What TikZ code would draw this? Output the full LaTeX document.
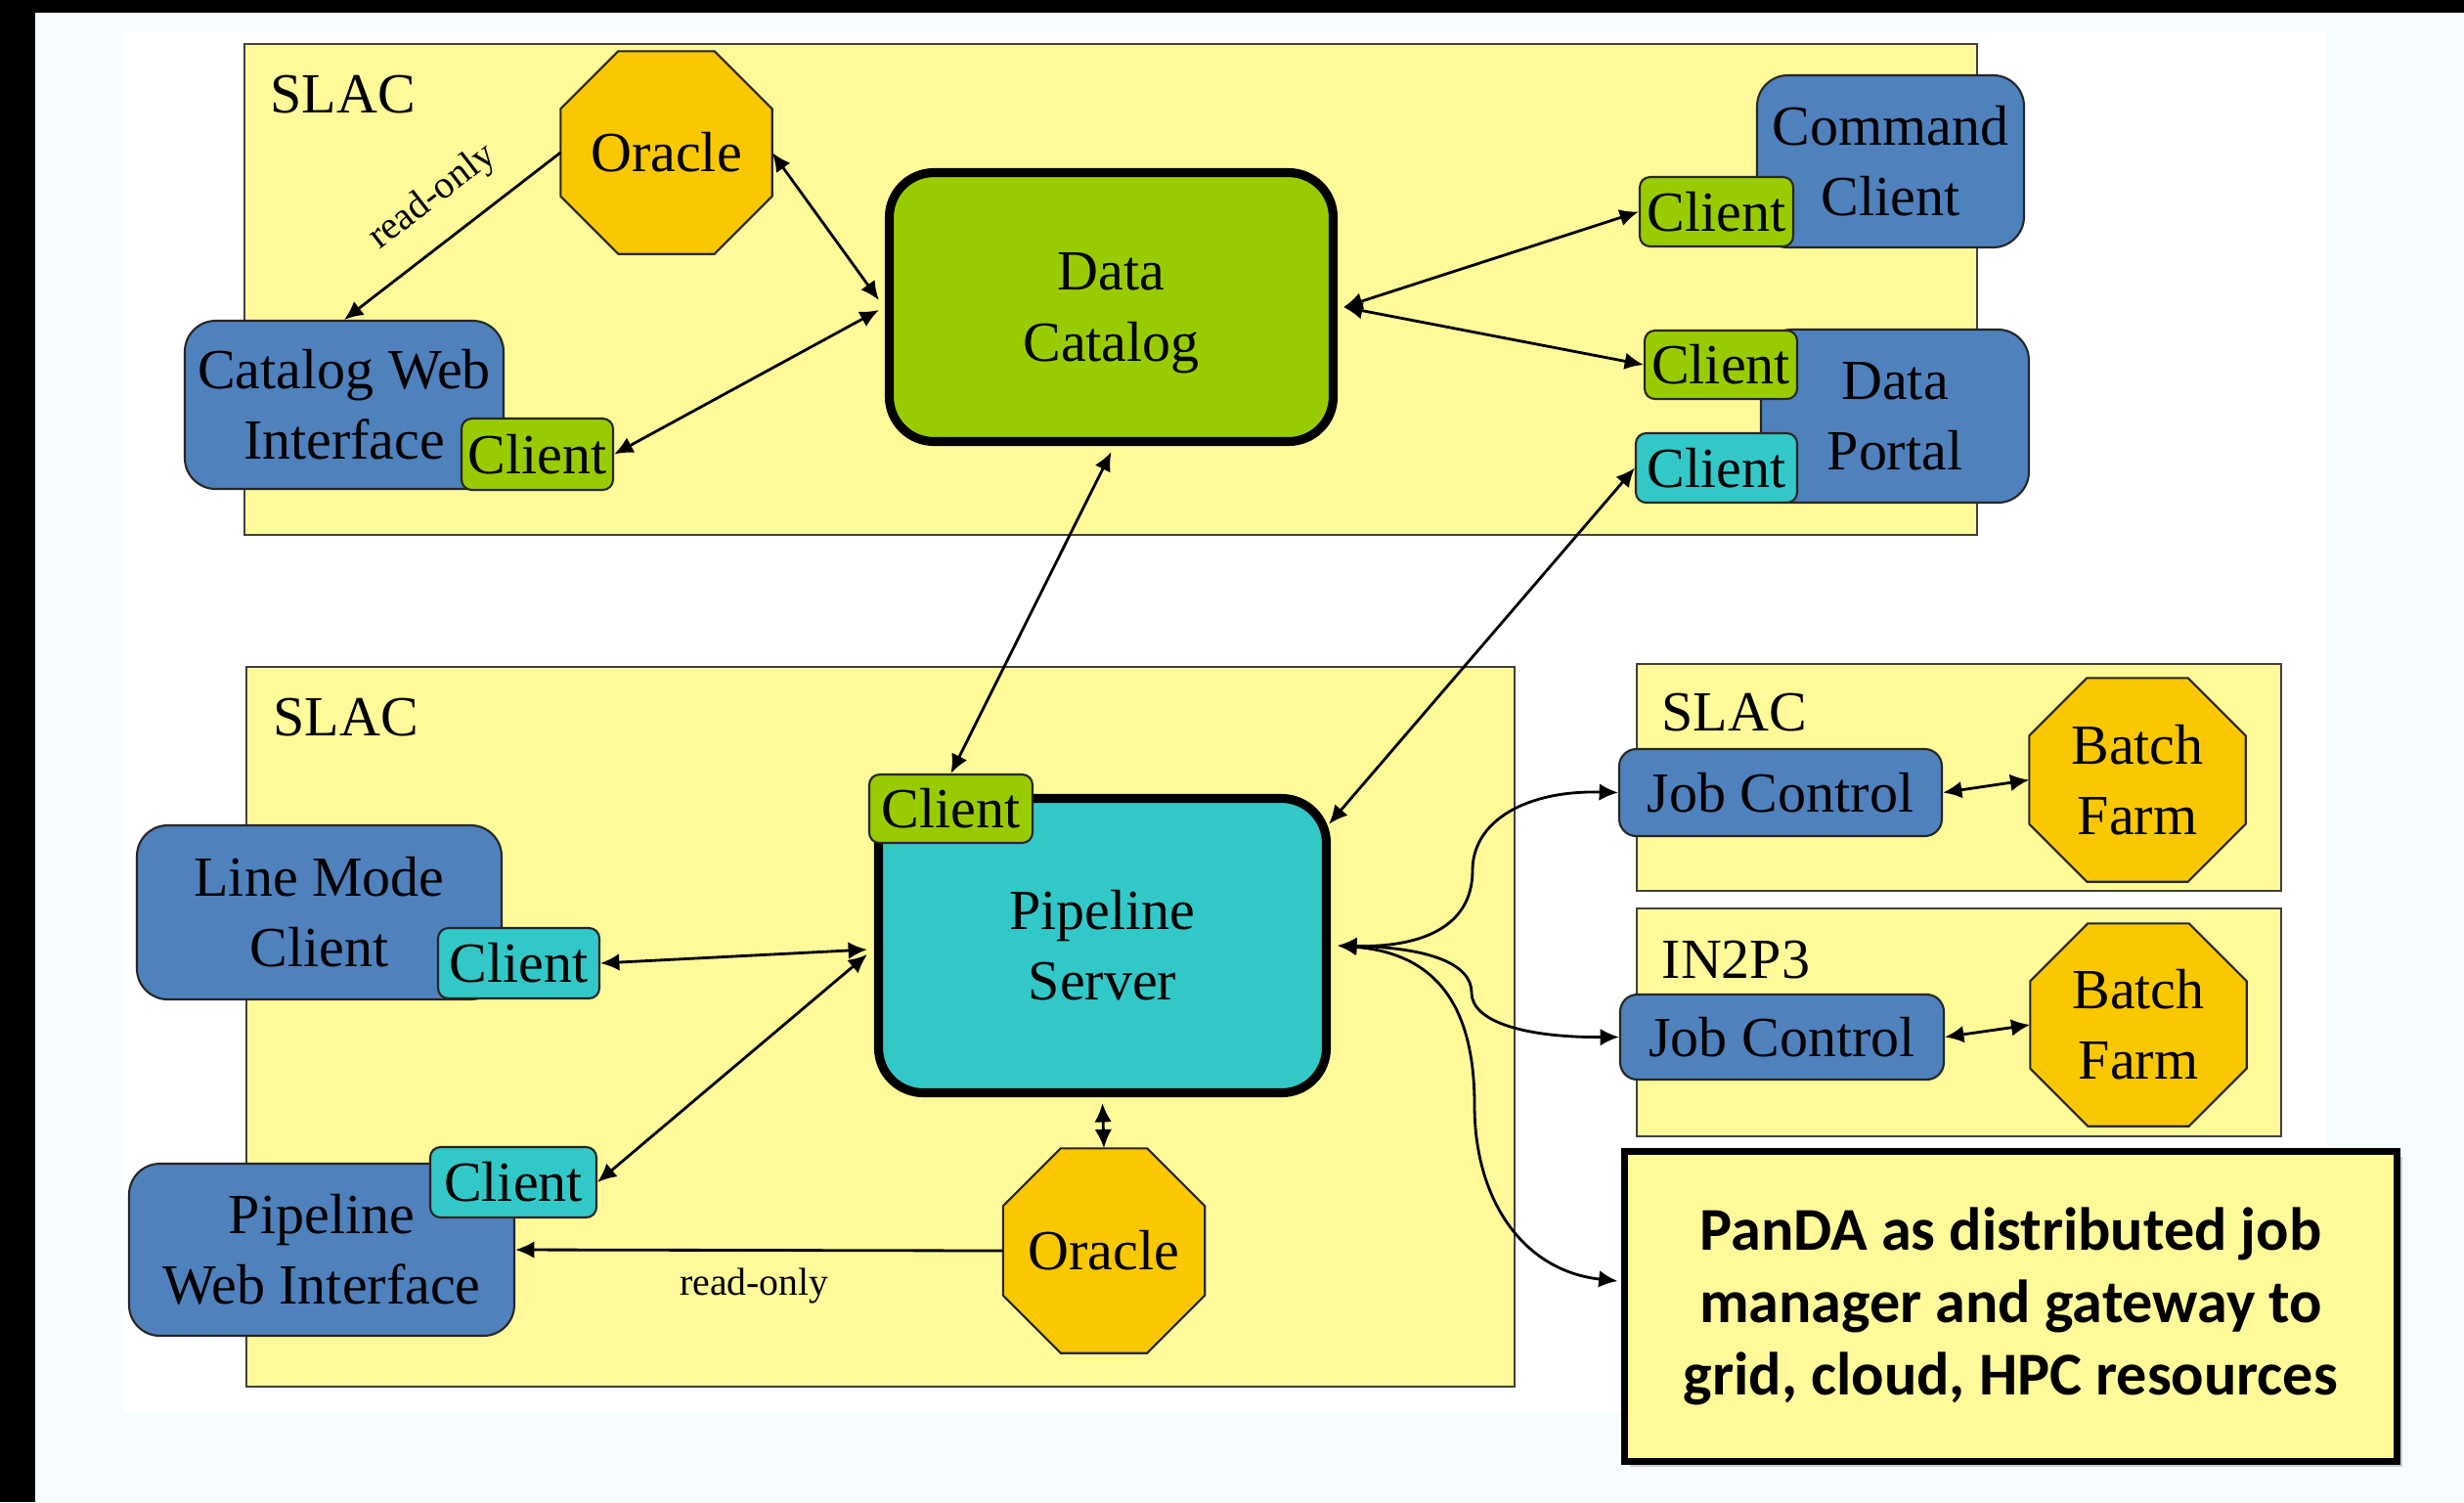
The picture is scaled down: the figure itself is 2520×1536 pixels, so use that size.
\documentclass[tikz,border=0pt]{standalone}
\usepackage{fontspec}
\setmainfont{Liberation Serif}
\newfontfamily\pandafont{Carlito}
\usetikzlibrary{calc,arrows.meta,shadows}

\definecolor{bgwhite}{HTML}{F7FDFF}
\definecolor{regyellow}{HTML}{FFFA99}
\definecolor{nodeblue}{HTML}{4F81BD}
\definecolor{nodegreen}{HTML}{99CC00}
\definecolor{nodecyan}{HTML}{33C8C8}
\definecolor{nodeorange}{HTML}{FAC800}

\newcommand\mainsize{\fontsize{16.5}{20.5}\selectfont}

\tikzset{
 region/.style={draw=black!75, fill=regyellow, line width=0.55pt, inner sep=0},
 reglabel/.style={anchor=west, inner sep=0, font=\mainsize},
 bluebox/.style={draw=black!85, fill=nodeblue, rounded corners=9pt, line width=0.6pt, align=center, font=\mainsize, inner sep=0},
 clientbox/.style={draw=black!85, rounded corners=3pt, line width=0.6pt, font=\mainsize, inner sep=0},
 greenclient/.style={clientbox, fill=nodegreen},
 cyanclient/.style={clientbox, fill=nodecyan},
 mainbox/.style={draw=black, line width=2.6pt, rounded corners=13pt, align=center, font=\mainsize, inner sep=0},
 octframe/.style={draw=black!85, fill=nodeorange, line width=0.6pt},
 octtext/.style={align=center, font=\mainsize, inner sep=0},
 conn/.style={line width=0.8pt, draw=black},
 arr/.style={conn, -{Latex[length=5.5pt,width=5pt]}},
 rarr/.style={conn, {Latex[length=5.5pt,width=5pt]}-},
 biarr/.style={conn, {Latex[length=5.5pt,width=5pt]}-{Latex[length=5.5pt,width=5pt]}},
 rolabel/.style={font=\fontsize{11.3}{13}\selectfont, inner sep=0},
}

\newcommand\octanode[6]{%
  \node[inner sep=0, minimum width=#4, minimum height=#5] (#1) at (#2,#3) {};
  \filldraw[octframe] ($(#1.north west)+(59,0)$) -- ($(#1.north east)+(-59,0)$)
    -- ($(#1.north east)+(0,59)$) -- ($(#1.south east)+(0,-59)$)
    -- ($(#1.south east)+(-59,0)$) -- ($(#1.south west)+(59,0)$)
    -- ($(#1.south west)+(0,-59)$) -- ($(#1.north west)+(0,59)$) -- cycle;
  \node[octtext] (#1t) at (#1) {#6};
}

\begin{document}
\begin{tikzpicture}[x=0.1mm,y=-0.1mm]
% background
\useasboundingbox (0,0) rectangle (2520,1536);
\fill[bgwhite] (0,0) rectangle (2520,1536);
\fill[white] (127,32) rectangle (2379,1445);
\fill[black] (0,0) rectangle (36,1536);
\fill[black] (0,0) rectangle (2520,13);

% ---------- top SLAC region ----------
\node[region, minimum width=177.2mm, minimum height=50.2mm] (slac1) at (1136,296) {};
\node[reglabel] (slac1l) at (276,96.5) {SLAC};
\octanode{oracle1}{681.5}{156}{21.5mm}{20.6mm}{Oracle}
\node[mainbox, fill=nodegreen, minimum width=45.4mm, minimum height=27.5mm, text depth=0pt] (dc) at (1136.5,314) {Data\\Catalog};
\node[bluebox, minimum width=32.6mm, minimum height=17.2mm] (cweb) at (352,414) {Catalog Web\\Interface};
\node[greenclient, minimum width=15.5mm, minimum height=7.3mm] (cwebc) at (549.5,464.5) {Client};
\node[bluebox, minimum width=27.3mm, minimum height=17.6mm] (cmd) at (1933.5,165) {Command\\Client};
\node[greenclient, minimum width=15.7mm, minimum height=7.1mm] (cmdc) at (1755.5,216.5) {Client};
\node[bluebox, minimum width=27.4mm, minimum height=17.7mm] (dp) at (1938,425.5) {Data\\Portal};
\node[greenclient, minimum width=15.6mm, minimum height=7.0mm] (dpg) at (1760,373) {Client};
\node[cyanclient, minimum width=16.5mm, minimum height=7.1mm] (dpc) at (1755.5,478.5) {Client};

% ---------- bottom SLAC region ----------
\node[region, minimum width=129.7mm, minimum height=73.6mm] (slac2) at (900.5,1050) {};
\node[reglabel] (slac2l) at (279,733.5) {SLAC};
\node[mainbox, fill=nodecyan, minimum width=45.8mm, minimum height=30.1mm] (ps) at (1127.5,967) {Pipeline\\Server};
\node[greenclient, minimum width=16.7mm, minimum height=7.0mm] (psc) at (972.5,827) {Client};
\node[bluebox, minimum width=37.3mm, minimum height=17.8mm] (lmc) at (326.5,933) {Line Mode\\Client};
\node[cyanclient, minimum width=16.5mm, minimum height=7.2mm] (lmcc) at (530.5,985) {Client};
\node[bluebox, minimum width=39.4mm, minimum height=17.6mm] (pwi) at (329,1278) {Pipeline\\Web Interface};
\node[cyanclient, minimum width=17.0mm, minimum height=7.2mm] (pwic) at (525,1209) {Client};
\octanode{oracle2}{1129}{1279}{20.5mm}{20.8mm}{Oracle}

% ---------- right regions ----------
\node[region, minimum width=65.9mm, minimum height=23.2mm] (slac3) at (2003.5,795) {};
\node[reglabel] (slac3l) at (1699,728.6) {SLAC};
\node[bluebox, rounded corners=5pt, minimum width=33.0mm, minimum height=8.9mm] (jc1) at (1821,810.5) {Job Control};
\octanode{bf1}{2186}{797.5}{22.0mm}{20.7mm}{Batch\\Farm}

\node[region, minimum width=65.9mm, minimum height=23.3mm] (in2p3) at (2003.5,1045.5) {};
\node[reglabel] (in2p3l) at (1699,982) {IN2P3};
\node[bluebox, rounded corners=5pt, minimum width=33.1mm, minimum height=8.7mm] (jc2) at (1822.5,1060.5) {Job Control};
\octanode{bf2}{2187}{1048}{22.0mm}{20.6mm}{Batch\\Farm}

\node[draw=black, line width=2pt, fill=regyellow, minimum width=79.0mm, minimum height=31.7mm, inner sep=0, align=center,
      font=\pandafont\bfseries\fontsize{17.7}{21}\selectfont,
      drop shadow={shadow xshift=1.5pt, shadow yshift=-1.5pt, opacity=0.18, fill=black}] (panda) at (2056.5,1336)
      {PanDA as distributed job\\manager and gateway to\\grid, cloud, HPC resources};

% ---------- anchor points ----------
\coordinate (dcW1) at ($(dc.west)+(-6,-7)$);
\coordinate (dcW2) at ($(dc.west)+(-6,3)$);
\coordinate (dcE) at ($(dc.east)+(6,0)$);
\coordinate (dcS) at ($(dc.south)+(0,6)$);
\coordinate (psW1) at ($(ps.west)+(-7,4)$);
\coordinate (psW2) at ($(ps.west)+(-7,9)$);
\coordinate (psE) at ($(ps.east)+(7,0)$);
\coordinate (psS) at ($(ps.south)+(0,6)$);
\coordinate (psNE) at ($(ps.28)+(-2,0)$);
\coordinate (pandaW) at ($(panda.west)+(-3.5,-26)$);

% ---------- connectors ----------
\draw[rarr] (cweb.north) -- node[rolabel, sloped, above=2.4mm, pos=0.53] (ro1) {read-only} (oracle1.west);
\draw[biarr] (oracle1.east) -- (dcW1);
\draw[biarr] (cwebc.east) -- (dcW2);
\draw[biarr] (dcE) -- (cmdc.west);
\draw[biarr] (dcE) -- (dpg.west);
\draw[biarr] (dcS) -- (psc.north);
\draw[biarr] (dpc.west) -- (psNE);
\draw[biarr] (lmcc.east) -- (psW1);
\draw[biarr] (pwic.east) -- (psW2);
\draw[biarr] (psS) -- (oracle2.north);
\draw[arr] (oracle2.west) -- node[rolabel, below=1.7mm, pos=0.51] (ro2) {read-only} (pwi.east);

\draw[biarr] (psE) .. controls (1450,969) and (1506,950) .. (1506,890)
             .. controls (1506,840) and (1560,808) .. (jc1.west);
\draw[biarr] (psE) .. controls (1460,969) and (1505,985) .. (1505,1015)
             .. controls (1505,1045) and (1560,1061) .. (jc2.west);
\draw[biarr] (psE) .. controls (1470,975) and (1508,1030) .. (1508,1130)
             .. controls (1508,1230) and (1560,1300) .. (pandaW);

\draw[biarr] (jc1.east) -- (bf1.west);
\draw[biarr] (jc2.east) -- (bf2.west);
\end{tikzpicture}
\end{document}
